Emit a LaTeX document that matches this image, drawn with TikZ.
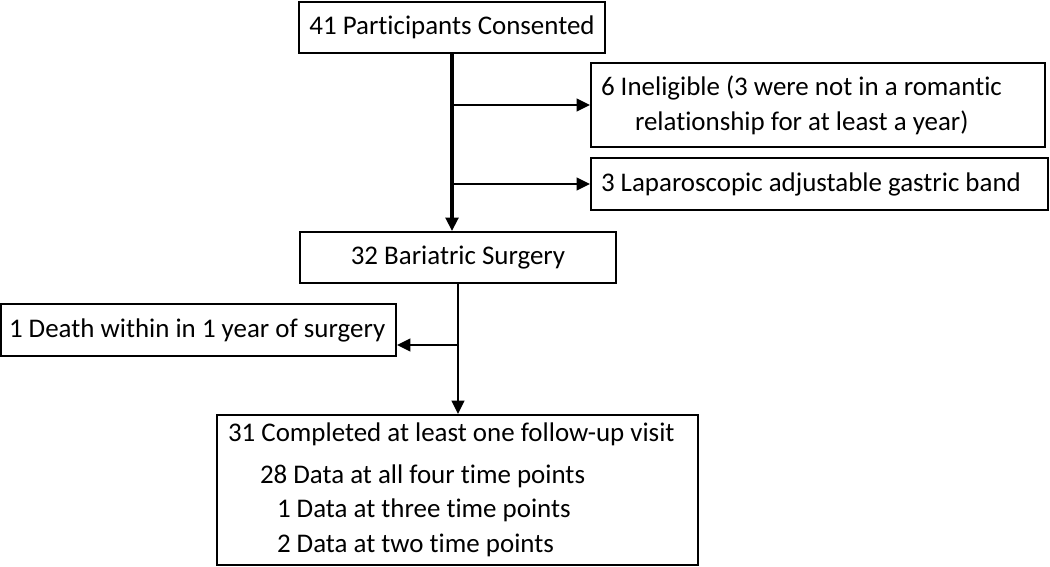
\documentclass[tikz,border=0pt]{standalone}
\usepackage{fontspec}
\setmainfont{Carlito}[Ligatures=NoCommon]
\usetikzlibrary{arrows.meta}
\tikzset{
  basebox/.style={draw=black, line width=1.5pt, inner xsep=7.5pt, inner ysep=0pt,
    font=\fontsize{20.2}{26.2}\selectfont},
  conn/.style={line width=1.5pt, -{Triangle[length=10pt,width=9.5pt]}},
  trunk/.style={line width=2.3pt, -{Triangle[length=10pt,width=9.5pt]}}
}
\begin{document}
\begin{tikzpicture}[x=0.75pt,y=-0.75pt]
\useasboundingbox (0,0) rectangle (1050,567);

\node[basebox, minimum width=228pt, minimum height=38.25pt] (n1) at (452,27.5)
  {41 Participants Consented};

\node[basebox, minimum height=63pt] (inel) at (818,105)
  {\parbox{325.5pt}{\mbox{6 Ineligible (3 were not in a romantic}\\
   \mbox{\hspace*{25.5pt}relationship for at least a year)}}};

\node[basebox, minimum height=39pt] (lap) at (819.5,184)
  {\parbox{327.75pt}{\mbox{3 Laparoscopic adjustable gastric band}}};

\node[basebox, minimum width=237pt, minimum height=38.25pt] (bari) at (458,257.5)
  {32 Bariatric Surgery};

\node[basebox, inner xsep=6pt, minimum height=39pt] (death) at (198.5,330)
  {\parbox{284.25pt}{\mbox{1 Death within in 1 year of surgery}}};

\node[basebox, inner xsep=8.25pt, minimum height=112.5pt] (final) at (457.5,490)
  {\parbox{344.25pt}{\mbox{31 Completed at least one follow-up visit}\\[5pt]
   \mbox{\hspace*{24pt}28 Data at all four time points}\\
   \mbox{\hspace*{36.75pt}1 Data at three time points}\\
   \mbox{\hspace*{36.75pt}2 Data at two time points}}};

% connectors
\draw[trunk] (n1.south) -- (n1.south |- bari.north);
\draw[conn] (n1.south |- inel.west) -- (inel.west);
\draw[conn] (n1.south |- lap.west) -- (lap.west);
\draw[conn] (bari.south) -- (bari.south |- final.north);
\coordinate (dj) at (bari.south |- 0,345);
\draw[conn] (dj) -- (dj -| death.east);
\end{tikzpicture}
\end{document}
